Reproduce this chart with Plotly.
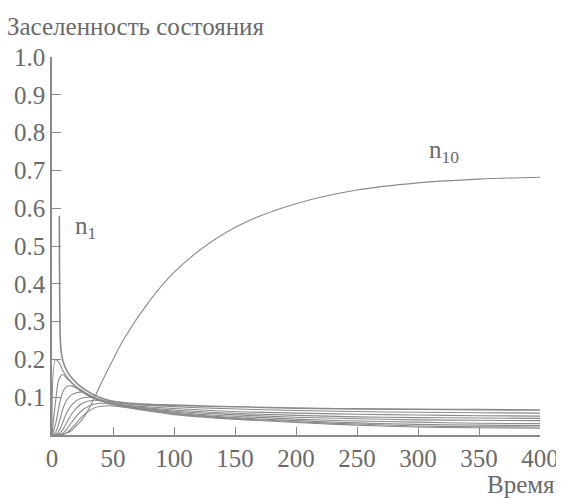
import plotly.graph_objects as go

# time grids
t1 = [6, 6.2, 6.5, 7, 8, 10, 13, 17, 22, 28, 35, 42, 50, 60, 80, 100, 130, 160, 200, 250, 300, 350, 400]
t = [0, 3, 6, 9, 12, 16, 20, 25, 30, 35, 40, 50, 60, 80, 100, 130, 160, 200, 250, 300, 350, 400]

# populations
n1 = [0.58, 0.42, 0.30, 0.24, 0.21, 0.185, 0.165, 0.148, 0.132, 0.118, 0.105, 0.096, 0.089, 0.085,
      0.081, 0.079, 0.076, 0.074, 0.071, 0.069, 0.068, 0.067, 0.066]
n2 = [0, 0.2, 0.19, 0.17, 0.155, 0.14, 0.128, 0.117, 0.107, 0.099, 0.093, 0.086, 0.082, 0.078, 0.075,
      0.071, 0.068, 0.065, 0.062, 0.06, 0.059, 0.058]
n3 = [0, 0.09, 0.15, 0.16, 0.15, 0.138, 0.126, 0.114, 0.104, 0.097, 0.091, 0.084, 0.079, 0.074, 0.07,
      0.065, 0.061, 0.058, 0.055, 0.053, 0.051, 0.05]
n4 = [0, 0.03, 0.08, 0.115, 0.128, 0.13, 0.124, 0.113, 0.103, 0.096, 0.09, 0.082, 0.077, 0.071, 0.066,
      0.06, 0.056, 0.052, 0.048, 0.046, 0.045, 0.044]
n5 = [0, 0.008, 0.035, 0.07, 0.092, 0.106, 0.112, 0.113, 0.106, 0.097, 0.091, 0.082, 0.076, 0.069, 0.063,
      0.057, 0.052, 0.047, 0.043, 0.04, 0.039, 0.038]
n6 = [0, 0.002, 0.012, 0.035, 0.058, 0.079, 0.091, 0.098, 0.1, 0.097, 0.092, 0.083, 0.076, 0.067, 0.06,
      0.053, 0.048, 0.042, 0.037, 0.034, 0.031, 0.03]
n7 = [0, 0, 0.004, 0.015, 0.032, 0.055, 0.071, 0.084, 0.09, 0.092, 0.09, 0.083, 0.076, 0.066, 0.058,
      0.05, 0.044, 0.038, 0.032, 0.028, 0.026, 0.025]
n8 = [0, 0, 0.001, 0.005, 0.015, 0.033, 0.05, 0.066, 0.076, 0.082, 0.084, 0.081, 0.075, 0.065, 0.056,
      0.048, 0.042, 0.035, 0.029, 0.024, 0.022, 0.021]
n9 = [0, 0, 0, 0.002, 0.006, 0.018, 0.032, 0.05, 0.063, 0.072, 0.076, 0.077, 0.073, 0.063, 0.054,
      0.046, 0.04, 0.033, 0.026, 0.021, 0.019, 0.018]
n10 = [0, 0, 0, 0.002, 0.005, 0.012, 0.025, 0.042, 0.068, 0.1, 0.135, 0.2, 0.26, 0.355, 0.43, 0.51,
       0.565, 0.612, 0.648, 0.667, 0.677, 0.682]

x_ticks = [0, 50, 100, 150, 200, 250, 300, 350, 400]
y_ticks = [0.1, 0.2, 0.3, 0.4, 0.5, 0.6, 0.7, 0.8, 0.9, 1.0]
y_tick_text = ["0.1", "0.2", "0.3", "0.4", "0.5", "0.6", "0.7", "0.8", "0.9", "1.0"]

LINE = "#8a8a8a"
TXT = "#6a6a6a"
FONT = "Times New Roman, Liberation Serif, serif"
FS = 25

fig = go.Figure()
fig.add_trace(go.Scatter(x=t1, y=n1, mode="lines", line=dict(color=LINE, width=1.6, shape="spline")))
for s in [n2, n3, n4, n5, n6, n7, n8, n9, n10]:
    fig.add_trace(go.Scatter(x=t, y=s, mode="lines", line=dict(color=LINE, width=1.1, shape="spline")))

# page body has an 8px default margin, so the figure is offset by 8px
fig.update_layout(
    width=556, height=490,
    margin=dict(l=44, r=24, t=49, b=63),
    paper_bgcolor="white", plot_bgcolor="white",
    showlegend=False,
    font=dict(family=FONT, size=FS, color=TXT),
    xaxis=dict(range=[0, 400], tickvals=x_ticks, ticks="inside", ticklen=8, tickcolor=LINE,
               showline=True, linecolor=LINE, linewidth=1.5, showgrid=False, zeroline=False,
               automargin=False, tickfont=dict(family=FONT, size=FS, color=TXT)),
    yaxis=dict(range=[0, 1.0], tickvals=y_ticks, ticktext=y_tick_text, ticks="inside", ticklen=9,
               tickcolor=LINE, showline=True, linecolor=LINE, linewidth=1.5, showgrid=False,
               zeroline=False, automargin=False, tickfont=dict(family=FONT, size=FS, color=TXT)),
    annotations=[
        dict(text="Заселенность состояния", xref="paper", yref="paper", x=-0.096, y=1.08,
             xanchor="left", yanchor="middle", showarrow=False, font=dict(family=FONT, size=FS, color=TXT)),
        dict(text="Время", xref="paper", yref="paper", x=1.035, y=-0.132,
             xanchor="right", yanchor="middle", showarrow=False, font=dict(family=FONT, size=FS, color=TXT)),
        dict(text="n<sub>1</sub>", xref="x", yref="y", x=17, y=0.55, xanchor="left", yanchor="middle",
             showarrow=False, font=dict(family=FONT, size=FS, color=TXT)),
        dict(text="n<sub>10</sub>", xref="x", yref="y", x=307, y=0.75, xanchor="left", yanchor="middle",
             showarrow=False, font=dict(family=FONT, size=FS, color=TXT)),
    ],
)

fig.write_html("out.html")
